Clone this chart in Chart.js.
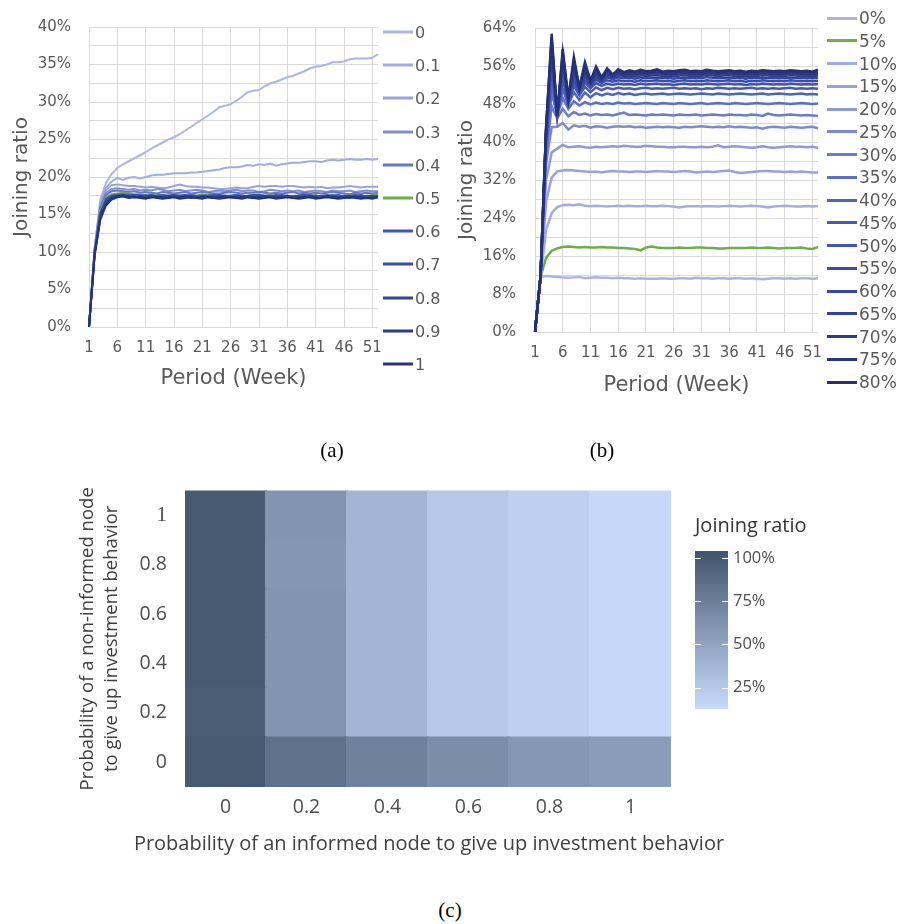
<!DOCTYPE html>
<html>
<head>
<meta charset="utf-8">
<title>Joining ratio</title>
<script src="https://cdn.jsdelivr.net/npm/chart.js@4.4.1/dist/chart.umd.min.js"></script>
<style>
  html, body { margin: 0; padding: 0; background: #fff; }
  #page { position: relative; width: 901px; height: 924px; overflow: hidden; }
  canvas { position: absolute; }
  .lg { position: absolute; display: flex; align-items: center; white-space: nowrap;
        transform: translateY(-50%); font-family: 'DejaVu Sans', sans-serif; color: #595959; }
  .lg i { display: inline-block; width: 30px; height: 3px; margin-right: 2px; }
  .cap { position: absolute; transform: translate(-50%, -50%); font-family: 'Liberation Serif', serif;
         font-size: 21px; color: #000; white-space: nowrap; }
  .xt { position: absolute; transform: translate(-50%, -50%); font-family: 'Open Sans', sans-serif;
        font-size: 20px; color: #3f3f3f; white-space: nowrap; }
</style>
</head>
<body>
<div id="page">
  <canvas id="chartA" width="400" height="400" style="left:0;top:0"></canvas>
  <canvas id="chartB" width="395" height="400" style="left:445px;top:0"></canvas>
  <canvas id="chartC" width="620" height="372" style="left:60px;top:460px"></canvas>
  <canvas id="chartD" width="130" height="219" style="left:690px;top:505px"></canvas>
  <div class="cap" style="left:332px;top:450px">(a)</div>
  <div class="cap" style="left:602px;top:450px">(b)</div>
  <div class="cap" style="left:450px;top:910px">(c)</div>
  <div class="xt" style="left:429px;top:842px">Probability of an informed node to give up investment behavior</div>
</div>
<script>
// ---- data: panel (a), joining ratio (%) per week, by give-up probability ----
const weeks = [1, 2, 3, 4, 5, 6, 7, 8, 9, 10, 11, 12, 13, 14, 15, 16, 17, 18, 19, 20, 21, 22, 23, 24, 25, 26,
  27, 28, 29, 30, 31, 32, 33, 34, 35, 36, 37, 38, 39, 40, 41, 42, 43, 44, 45, 46, 47, 48, 49, 50, 51, 52];

const labelsA = ['0', '0.1', '0.2', '0.3', '0.4', '0.5', '0.6', '0.7', '0.8', '0.9', '1'];
const colorsA = ['#adb5e2', '#a3ace0', '#98a3dc', '#7f8dd3', '#6676c9', '#70ad47',
  '#4256b6', '#3b4eab', '#33449c', '#2b3a8c', '#25337a'];

const a00 = [0, 10.5, 17.0, 19.2, 20.4, 21.2, 21.7, 22.1, 22.5, 22.9, 23.3, 23.8, 24.2, 24.6, 25.0, 25.3, 25.7, 26.2, 26.7, 27.2,
  27.7, 28.2, 28.7, 29.3, 29.5, 29.7, 30.2, 30.7, 31.3, 31.5, 31.6, 32.1, 32.5, 32.7, 33.0, 33.3, 33.5, 33.8, 34.1, 34.5,
  34.7, 34.8, 35.0, 35.3, 35.3, 35.4, 35.7, 35.8, 35.8, 35.8, 35.9, 36.4];
const a01 = [0, 10.5, 16.6, 18.6, 19.4, 19.9, 19.6, 19.9, 20.0, 19.8, 20.0, 20.2, 20.3, 20.3, 20.4, 20.5, 20.5, 20.5, 20.6, 20.6,
  20.7, 20.8, 20.9, 21.0, 21.2, 21.3, 21.3, 21.4, 21.6, 21.5, 21.7, 21.6, 21.8, 21.5, 21.7, 21.8, 21.9, 21.9, 22.0, 22.1,
  22.1, 22.0, 22.2, 22.3, 22.2, 22.3, 22.4, 22.3, 22.3, 22.4, 22.3, 22.4];
const a02 = [0, 10.4, 16.3, 18.3, 18.9, 19.0, 18.9, 18.8, 18.8, 18.7, 18.6, 18.7, 18.6, 18.5, 18.6, 18.8, 19.0, 18.8, 18.7, 18.7,
  18.6, 18.6, 18.5, 18.4, 18.4, 18.5, 18.6, 18.5, 18.5, 18.7, 18.8, 18.7, 18.8, 18.8, 18.7, 18.8, 18.8, 18.7, 18.6, 18.7,
  18.6, 18.7, 18.5, 18.6, 18.6, 18.7, 18.8, 18.7, 18.6, 18.7, 18.7, 18.7];
const a03 = [0, 10.3, 16.0, 17.9, 18.4, 18.5, 18.4, 18.3, 18.4, 18.2, 18.3, 18.2, 18.4, 18.3, 18.1, 18.2, 18.3, 18.1, 18.2, 18.3,
  18.2, 18.0, 18.1, 18.2, 18.1, 18.2, 18.3, 18.1, 18.2, 18.2, 18.0, 18.1, 18.3, 18.2, 18.1, 18.2, 18.1, 18.2, 18.0, 18.1,
  18.2, 18.1, 18.0, 18.2, 18.1, 18.1, 18.2, 18.0, 18.1, 18.2, 18.1, 18.1];
const a04 = [0, 10.2, 15.8, 17.6, 18.1, 18.2, 18.1, 18.0, 18.1, 17.9, 18.0, 17.9, 17.8, 18.0, 17.9, 17.8, 17.9, 18.0, 17.8, 17.9,
  18.0, 17.9, 17.8, 17.8, 17.9, 18.0, 17.9, 17.8, 17.9, 17.9, 18.0, 17.9, 17.8, 17.9, 17.8, 17.9, 18.0, 17.8, 17.9, 17.8,
  17.9, 17.8, 17.9, 18.0, 17.9, 17.8, 17.7, 17.9, 17.8, 17.9, 17.8, 17.9];
const a05 = [0, 10.1, 15.5, 17.3, 17.7, 17.8, 17.9, 17.8, 17.7, 17.7, 17.6, 17.7, 17.6, 17.6, 17.5, 17.6, 17.5, 17.6, 17.5, 17.5,
  17.7, 17.6, 17.5, 17.4, 17.5, 17.5, 17.6, 17.5, 17.5, 17.6, 17.7, 17.5, 17.6, 17.5, 17.5, 17.4, 17.5, 17.5, 17.6, 17.5,
  17.6, 17.4, 17.5, 17.6, 17.5, 17.4, 17.6, 17.5, 17.3, 17.5, 17.6, 17.7];
const a06 = [0, 10.0, 15.2, 17.1, 17.5, 17.6, 17.7, 17.6, 17.5, 17.6, 17.5, 17.4, 17.5, 17.6, 17.5, 17.4, 17.5, 17.6, 17.5, 17.4,
  17.5, 17.5, 17.6, 17.5, 17.4, 17.5, 17.6, 17.5, 17.4, 17.5, 17.6, 17.5, 17.5, 17.4, 17.6, 17.5, 17.4, 17.5, 17.5, 17.6,
  17.4, 17.5, 17.6, 17.5, 17.4, 17.5, 17.5, 17.6, 17.4, 17.5, 17.4, 17.5];
const a07 = [0, 9.9, 15.0, 16.9, 17.4, 17.6, 17.5, 17.5, 17.6, 17.4, 17.5, 17.6, 17.4, 17.3, 17.5, 17.6, 17.5, 17.4, 17.6, 17.5,
  17.3, 17.4, 17.5, 17.6, 17.5, 17.4, 17.5, 17.3, 17.5, 17.6, 17.4, 17.5, 17.4, 17.6, 17.5, 17.3, 17.4, 17.5, 17.6, 17.4,
  17.5, 17.3, 17.4, 17.5, 17.6, 17.4, 17.3, 17.5, 17.6, 17.4, 17.5, 17.4];
const a08 = [0, 9.8, 14.8, 16.7, 17.3, 17.5, 17.6, 17.4, 17.5, 17.3, 17.4, 17.5, 17.3, 17.4, 17.5, 17.3, 17.4, 17.5, 17.4, 17.3,
  17.5, 17.4, 17.3, 17.4, 17.5, 17.3, 17.4, 17.5, 17.4, 17.3, 17.5, 17.4, 17.3, 17.5, 17.4, 17.5, 17.3, 17.4, 17.3, 17.5,
  17.4, 17.3, 17.5, 17.4, 17.3, 17.4, 17.5, 17.3, 17.4, 17.3, 17.4, 17.4];
const a09 = [0, 9.7, 14.6, 16.5, 17.2, 17.4, 17.5, 17.4, 17.3, 17.4, 17.2, 17.3, 17.4, 17.3, 17.2, 17.4, 17.3, 17.4, 17.2, 17.3,
  17.4, 17.3, 17.2, 17.3, 17.4, 17.3, 17.2, 17.4, 17.3, 17.2, 17.3, 17.4, 17.3, 17.2, 17.3, 17.4, 17.2, 17.3, 17.4, 17.3,
  17.2, 17.3, 17.4, 17.3, 17.2, 17.3, 17.2, 17.4, 17.3, 17.2, 17.3, 17.3];
const a10 = [0, 9.6, 14.3, 16.2, 17.0, 17.3, 17.4, 17.2, 17.3, 17.2, 17.1, 17.3, 17.2, 17.1, 17.2, 17.3, 17.1, 17.2, 17.3, 17.2,
  17.1, 17.3, 17.2, 17.1, 17.2, 17.3, 17.2, 17.1, 17.3, 17.2, 17.1, 17.2, 17.3, 17.1, 17.2, 17.3, 17.2, 17.1, 17.2, 17.3,
  17.1, 17.2, 17.3, 17.2, 17.1, 17.2, 17.3, 17.2, 17.1, 17.2, 17.1, 17.3];
const seriesA = [a00, a01, a02, a03, a04, a05, a06, a07, a08, a09, a10];

// ---- data: panel (b), joining ratio (%) per week, by share of informed nodes ----
const labelsB = ['0%', '5%', '10%', '15%', '20%', '25%', '30%', '35%', '40%', '45%', '50%', '55%', '60%', '65%', '70%', '75%', '80%'];
const colorsB = ['#abb3e2', '#70ad47', '#a3ace0', '#97a2dc', '#8e99d8', '#7c8ad2', '#6c7bcc', '#5e6fc6', '#5063bf',
  '#4659b8', '#4054b0', '#3b4ea7', '#36489e', '#314294', '#2c3c8a', '#283680', '#243176'];

const b00 = [0, 11.6, 11.8, 11.7, 11.6, 11.5, 11.4, 11.5, 11.6, 11.3, 11.4, 11.5, 11.4, 11.4, 11.3, 11.4, 11.3, 11.3, 11.2, 11.3,
  11.2, 11.2, 11.2, 11.3, 11.2, 11.2, 11.3, 11.3, 11.2, 11.4, 11.3, 11.3, 11.2, 11.3, 11.3, 11.2, 11.3, 11.3, 11.2, 11.3,
  11.2, 11.1, 11.2, 11.3, 11.3, 11.2, 11.3, 11.2, 11.3, 11.3, 11.2, 11.3];
const b05 = [0, 11.6, 15.6, 17.1, 17.6, 17.9, 18.0, 17.9, 17.8, 17.9, 17.8, 17.8, 17.9, 17.8, 17.8, 17.7, 17.7, 17.6, 17.5, 17.2,
  17.8, 18.0, 17.8, 17.7, 17.7, 17.7, 17.8, 17.7, 17.7, 17.8, 17.8, 17.7, 17.7, 17.6, 17.6, 17.7, 17.7, 17.7, 17.7, 17.8,
  17.7, 17.7, 17.8, 17.7, 17.6, 17.7, 17.7, 17.7, 17.8, 17.6, 17.5, 17.9];
const b10 = [0, 11.6, 21.5, 25.0, 26.3, 26.7, 26.8, 26.7, 26.9, 26.6, 26.5, 26.6, 26.5, 26.4, 26.5, 26.6, 26.5, 26.6, 26.5, 26.5,
  26.6, 26.5, 26.5, 26.6, 26.5, 26.4, 26.2, 26.4, 26.5, 26.5, 26.4, 26.5, 26.5, 26.4, 26.5, 26.6, 26.5, 26.4, 26.5, 26.6,
  26.5, 26.4, 26.2, 26.4, 26.5, 26.6, 26.5, 26.4, 26.4, 26.5, 26.4, 26.5];
const b15 = [0, 11.6, 27.5, 32.5, 33.8, 34.0, 34.1, 34.0, 33.9, 33.8, 33.7, 33.8, 33.6, 33.8, 33.9, 33.8, 33.8, 33.7, 33.8, 33.8,
  33.7, 33.8, 33.9, 33.8, 33.8, 33.7, 33.8, 33.9, 33.8, 33.6, 33.7, 33.8, 33.7, 33.8, 33.9, 34.0, 33.7, 33.5, 33.6, 33.7,
  33.8, 33.9, 33.9, 33.8, 33.8, 33.7, 33.8, 33.7, 33.8, 33.7, 33.6, 33.6];
const b20 = [0, 11.6, 32.0, 37.8, 38.6, 39.4, 38.9, 39.0, 39.1, 38.9, 38.8, 39.0, 38.9, 39.0, 39.1, 39.0, 39.2, 39.1, 39.0, 39.0,
  39.2, 39.1, 39.0, 39.0, 38.9, 38.9, 39.0, 39.0, 38.9, 38.9, 39.0, 38.9, 39.0, 39.3, 38.9, 39.0, 39.1, 39.0, 38.9, 38.8,
  38.9, 39.1, 38.9, 38.8, 38.9, 39.0, 39.1, 39.0, 39.0, 38.9, 39.0, 38.8];
const b25 = [0, 11.6, 35.5, 43.1, 43.2, 44.0, 42.6, 43.5, 43.2, 43.4, 43.0, 43.3, 43.2, 43.0, 43.2, 43.3, 43.2, 43.3, 43.1, 43.2,
  43.0, 43.1, 43.2, 43.1, 43.2, 43.1, 43.0, 43.2, 43.1, 43.2, 43.3, 43.2, 43.1, 43.2, 43.1, 43.3, 43.1, 43.2, 43.1, 43.0,
  43.1, 42.8, 43.1, 43.2, 43.1, 43.0, 43.2, 43.1, 43.0, 43.1, 43.2, 42.9];
const b30 = [0, 11.6, 37.0, 47.5, 45.0, 47.0, 45.4, 46.3, 45.7, 46.0, 45.6, 45.9, 45.7, 45.8, 45.6, 45.9, 46.2, 45.7, 45.8, 45.7,
  45.6, 45.8, 45.7, 45.8, 45.7, 45.6, 45.8, 45.7, 45.7, 45.8, 45.6, 45.7, 45.8, 45.7, 45.6, 45.8, 45.7, 45.7, 45.6, 45.8,
  45.7, 45.5, 46.0, 45.7, 45.6, 45.7, 45.8, 45.7, 45.6, 45.7, 45.6, 45.5];
const b35 = [0, 11.6, 38.5, 50.5, 45.5, 49.3, 47.0, 48.6, 47.7, 48.4, 47.9, 48.3, 48.0, 48.2, 48.0, 48.3, 48.1, 48.2, 48.0, 48.1,
  48.2, 48.1, 48.0, 48.2, 48.1, 48.0, 48.2, 48.1, 48.0, 48.1, 48.2, 48.0, 48.1, 48.2, 48.1, 48.0, 48.2, 48.1, 48.0, 48.1,
  48.2, 48.1, 48.0, 48.1, 48.2, 48.1, 48.0, 48.1, 48.2, 48.1, 48.0, 48.1];
const b40 = [0, 11.6, 39.5, 53.0, 45.8, 51.2, 47.8, 50.5, 48.8, 50.4, 49.4, 50.3, 49.8, 50.2, 49.9, 50.3, 50.0, 50.2, 49.9, 50.1,
  50.2, 50.0, 50.1, 50.2, 50.0, 50.1, 50.2, 50.1, 50.0, 50.1, 50.2, 50.1, 50.0, 50.2, 50.1, 50.0, 50.1, 50.2, 50.1, 50.0,
  50.1, 50.2, 50.0, 50.1, 50.2, 50.1, 50.0, 50.1, 50.2, 50.0, 50.1, 50.0];
const b45 = [0, 11.6, 40.5, 55.5, 45.8, 53.0, 48.4, 51.8, 49.8, 51.6, 50.5, 51.5, 50.9, 51.4, 51.1, 51.4, 51.2, 51.3, 51.1, 51.3,
  51.4, 51.2, 51.3, 51.2, 51.3, 51.4, 51.2, 51.3, 51.2, 51.3, 51.1, 51.3, 51.2, 51.4, 51.3, 51.2, 51.3, 51.2, 51.3, 51.4,
  51.2, 51.3, 51.2, 51.3, 51.2, 51.3, 51.4, 51.2, 51.3, 51.2, 51.3, 51.2];
const b50 = [0, 11.6, 41.0, 57.2, 45.6, 54.4, 48.8, 52.8, 50.4, 52.5, 51.3, 52.4, 51.8, 52.3, 52.0, 52.3, 52.1, 52.2, 52.0, 52.3,
  52.1, 52.2, 52.3, 52.1, 52.2, 52.0, 52.2, 52.3, 52.1, 52.2, 52.1, 52.3, 52.2, 52.1, 52.2, 52.3, 52.1, 52.2, 52.0, 52.2,
  52.1, 52.3, 52.2, 52.1, 52.2, 52.1, 52.3, 52.2, 52.1, 52.2, 52.1, 52.2];
const b55 = [0, 11.6, 41.5, 58.6, 45.5, 55.6, 49.0, 53.6, 50.8, 53.2, 51.8, 53.1, 52.4, 53.0, 52.7, 53.0, 52.8, 52.9, 52.7, 53.0,
  52.8, 52.9, 53.0, 52.8, 52.9, 52.7, 52.9, 53.0, 52.8, 52.9, 52.8, 53.0, 52.9, 52.8, 52.9, 53.0, 52.8, 52.9, 52.7, 52.9,
  52.8, 53.0, 52.9, 52.8, 52.9, 52.8, 53.0, 52.9, 52.8, 52.9, 52.8, 52.9];
const b60 = [0, 11.6, 42.0, 59.8, 45.5, 56.6, 49.0, 54.5, 51.0, 53.9, 52.1, 53.6, 52.8, 53.6, 53.2, 53.6, 53.4, 53.5, 53.3, 53.6,
  53.4, 53.5, 53.6, 53.4, 53.5, 53.3, 53.5, 53.6, 53.4, 53.5, 53.4, 53.7, 53.5, 53.4, 53.5, 53.6, 53.4, 53.5, 53.3, 53.5,
  53.4, 53.6, 53.5, 53.4, 53.5, 53.4, 53.6, 53.5, 53.4, 53.5, 53.4, 53.5];
const b65 = [0, 11.6, 42.3, 60.6, 45.5, 57.4, 49.0, 55.3, 51.2, 54.6, 52.4, 54.2, 53.1, 54.1, 53.6, 54.1, 53.9, 54.0, 53.8, 54.1,
  53.9, 54.0, 54.1, 53.9, 54.0, 53.8, 54.0, 54.1, 53.9, 54.0, 53.9, 54.2, 54.0, 53.9, 54.0, 54.1, 53.9, 54.0, 53.8, 54.0,
  53.9, 54.1, 54.0, 53.9, 54.0, 53.9, 54.1, 54.0, 53.9, 54.0, 53.9, 54.0];
const b70 = [0, 11.6, 42.6, 61.3, 45.5, 58.0, 49.0, 56.0, 51.3, 55.3, 52.6, 54.8, 53.4, 54.6, 53.9, 54.5, 54.2, 54.4, 54.2, 54.5,
  54.3, 54.4, 54.6, 54.3, 54.4, 54.2, 54.4, 54.5, 54.3, 54.4, 54.3, 54.6, 54.4, 54.3, 54.4, 54.5, 54.3, 54.4, 54.2, 54.4,
  54.3, 54.5, 54.4, 54.3, 54.4, 54.3, 54.5, 54.4, 54.3, 54.4, 54.3, 54.4];
const b75 = [0, 11.6, 42.9, 62.0, 45.5, 58.8, 49.1, 56.8, 51.4, 55.8, 52.8, 55.2, 53.6, 54.9, 54.2, 54.8, 54.5, 54.7, 54.5, 54.8,
  54.6, 54.7, 54.9, 54.6, 54.7, 54.5, 54.7, 54.8, 54.6, 54.7, 54.6, 54.9, 54.7, 54.6, 54.7, 54.8, 54.6, 54.7, 54.5, 54.7,
  54.6, 54.8, 54.7, 54.6, 54.7, 54.6, 54.8, 54.7, 54.6, 54.7, 54.6, 54.7];
const b80 = [0, 11.6, 43.2, 62.8, 45.5, 59.6, 49.2, 57.9, 51.5, 56.8, 52.9, 55.9, 53.6, 55.5, 54.2, 55.3, 54.7, 55.1, 54.8, 55.2,
  54.9, 55.0, 55.3, 54.8, 55.0, 54.9, 55.1, 55.2, 54.9, 55.0, 54.9, 55.2, 55.0, 54.9, 55.0, 55.1, 54.9, 55.0, 54.8, 55.0,
  54.9, 55.1, 55.0, 54.9, 55.0, 54.9, 55.1, 55.0, 54.9, 55.0, 54.8, 55.2];
const seriesB = [b00, b05, b10, b15, b20, b25, b30, b35, b40, b45, b50, b55, b60, b65, b70, b75, b80];

// ---- data: panel (c), joining ratio (%) grid ----
const informedProb = ['0', '0.2', '0.4', '0.6', '0.8', '1'];      // x
const nonInformedProb = ['0', '0.2', '0.4', '0.6', '0.8', '1'];   // y, bottom to top
const heatY00 = [100, 84, 73, 65, 58, 55];
const heatY02 = [98, 60, 38, 25, 19, 14];
const heatY04 = [100, 60, 38, 25, 19, 14];
const heatY06 = [100, 60, 38, 25, 19, 14];
const heatY08 = [100, 59, 38, 25, 19, 14];
const heatY10 = [100, 60, 38, 25, 19, 14];
const heatRows = [heatY00, heatY02, heatY04, heatY06, heatY08, heatY10];

// colour bar: range and ticks (%)
const barRange = [12.5, 104];
const barTicks = [25, 50, 75, 100];

// ---- styling ----
const GRID = '#d9d9d9';
const TEXT = '#595959';
const LOW = [200, 218, 252];
const HIGH = [66, 84, 108];
const SANS_C = "'Open Sans', sans-serif";

Chart.defaults.font.family = "'DejaVu Sans', sans-serif";
Chart.defaults.color = TEXT;
Chart.defaults.animation = false;

function rgb(c) { return `rgb(${c[0]}, ${c[1]}, ${c[2]})`; }

function heatColor(v) {
  const t = Math.min(1, Math.max(0, (v - barRange[0]) / (barRange[1] - barRange[0])));
  return rgb(LOW.map((lo, k) => Math.round(lo + (HIGH[k] - lo) * t)));
}

const onStep = (v, step) => Math.abs(v / step - Math.round(v / step)) < 1e-6;

function lineChart(id, series, labels, colors, opt) {
  const n = series.length;
  return new Chart(document.getElementById(id), {
    type: 'line',
    data: {
      labels: weeks,
      datasets: series.map((d, i) => ({
        label: labels[i],
        data: d,
        borderColor: colors[i],
        backgroundColor: colors[i],
        borderWidth: opt.lineWidth,
        pointRadius: 0,
        tension: 0,
        order: n - i,
      })),
    },
    options: {
      responsive: false,
      animation: false,
      layout: { padding: { top: 15, right: 22, bottom: 0, left: 0 } },
      plugins: { legend: { display: false }, tooltip: { enabled: false } },
      scales: {
        x: {
          grid: { color: (c) => (c.index % 5 === 0 ? GRID : 'rgba(0,0,0,0)'), drawTicks: false },
          border: { display: false },
          ticks: {
            autoSkip: false,
            maxRotation: 0,
            padding: 12,
            font: { size: 15 },
            callback: (v, i) => (i % 5 === 0 ? weeks[i] : ''),
          },
          title: { display: true, text: 'Period (Week)', font: { size: 21 }, padding: { top: 0, bottom: opt.xTitlePad } },
          afterFit: (s) => { s.height = opt.xHeight; },
        },
        y: {
          min: 0,
          max: opt.yMax,
          grid: { color: GRID, drawTicks: false },
          border: { display: false },
          ticks: {
            stepSize: opt.yStep / 2,
            autoSkip: false,
            padding: opt.yPad,
            font: { size: 15 },
            callback: (v) => (onStep(v, opt.yStep) ? Math.round(v) + '%' : ''),
          },
          title: { display: true, text: 'Joining ratio', font: { size: 20 }, padding: { top: 10, bottom: 0 } },
          afterFit: (s) => { s.width = opt.yWidth; },
        },
      },
    },
  });
}

function htmlLegend(labels, colors, x, y0, dy, size) {
  const page = document.getElementById('page');
  labels.forEach((lab, i) => {
    const row = document.createElement('div');
    row.className = 'lg';
    row.style.left = x + 'px';
    row.style.top = (y0 + i * dy) + 'px';
    row.style.fontSize = size + 'px';
    const swatch = document.createElement('i');
    swatch.style.background = colors[i];
    row.appendChild(swatch);
    row.appendChild(document.createTextNode(lab));
    page.appendChild(row);
  });
}

// (a)
lineChart('chartA', seriesA, labelsA, colorsA,
  { lineWidth: 2, yMax: 40, yStep: 5, yPad: 18, yWidth: 89, xHeight: 73, xTitlePad: 9 });
htmlLegend(labelsA, colorsA, 383, 32, 33.2, 16);

// (b)
lineChart('chartB', seriesB, labelsB, colorsB,
  { lineWidth: 2.5, yMax: 64, yStep: 8, yPad: 19, yWidth: 90, xHeight: 68, xTitlePad: 2 });
htmlLegend(labelsB, colorsB, 827, 18, 22.75, 17);

// (c) heatmap as stacked unit bars, coloured by value
new Chart(document.getElementById('chartC'), {
  type: 'bar',
  data: {
    labels: informedProb,
    datasets: heatRows.map((row, r) => ({
      label: nonInformedProb[r],
      data: row.map(() => 1),
      backgroundColor: row.map(heatColor),
      borderWidth: 0,
      inflateAmount: 1,
      barPercentage: 1,
      categoryPercentage: 1,
    })),
  },
  options: {
    responsive: false,
    animation: false,
    layout: { padding: { top: 19, right: 9, bottom: 0, left: 0 } },
    plugins: { legend: { display: false }, tooltip: { enabled: false } },
    scales: {
      x: {
        stacked: true,
        grid: { display: false, drawTicks: false },
        border: { display: false },
        ticks: { padding: 9, color: '#4d4d4d', font: { family: SANS_C, size: 19.5 } },
        afterFit: (s) => { s.height = 45; },
      },
      y: {
        stacked: true,
        min: 0,
        max: nonInformedProb.length,
        grid: { display: false, drawTicks: false },
        border: { display: false },
        afterBuildTicks: (s) => { s.ticks = nonInformedProb.map((_, i) => ({ value: i + 0.5 })); },
        ticks: {
          padding: 18,
          color: '#4d4d4d',
          font: (c) => (c.index === nonInformedProb.length - 1
            ? { family: "'Liberation Serif', serif", size: 21 }
            : { family: SANS_C, size: 19.5 }),
          callback: (v, i) => nonInformedProb[i],
        },
        title: {
          display: true,
          text: ['Probability of a non-informed node', 'to give up investment behavior'],
          color: '#3f3f3f',
          font: { family: SANS_C, size: 18.5, lineHeight: 24 / 18.5 },
          padding: { top: 16, bottom: 0 },
        },
        afterFit: (s) => { s.width = 125; },
      },
    },
  },
});

// colour bar
const barTickMarks = {
  id: 'barTickMarks',
  afterDatasetsDraw(chart) {
    const { ctx, chartArea: a, scales: { y } } = chart;
    ctx.save();
    ctx.strokeStyle = '#ffffff';
    ctx.lineWidth = 1;
    barTicks.forEach((v) => {
      const py = Math.round(y.getPixelForValue(v)) + 0.5;
      ctx.beginPath();
      ctx.moveTo(a.left, py);
      ctx.lineTo(a.left + 6, py);
      ctx.moveTo(a.right - 6, py);
      ctx.lineTo(a.right, py);
      ctx.stroke();
    });
    ctx.restore();
  },
};

new Chart(document.getElementById('chartD'), {
  type: 'bar',
  data: {
    labels: [''],
    datasets: [{
      data: [barRange],
      borderWidth: 0,
      barPercentage: 1,
      categoryPercentage: 1,
      backgroundColor: (c) => {
        const chart = c.chart;
        if (!chart.chartArea) return rgb(LOW);
        const y = chart.scales.y;
        const g = chart.ctx.createLinearGradient(0, y.getPixelForValue(barRange[0]), 0, y.getPixelForValue(barRange[1]));
        g.addColorStop(0, rgb(LOW));
        g.addColorStop(1, rgb(HIGH));
        return g;
      },
    }],
  },
  options: {
    responsive: false,
    animation: false,
    layout: { padding: { top: 0, right: 0, bottom: 12, left: 5 } },
    plugins: {
      legend: { display: false },
      tooltip: { enabled: false },
      title: {
        display: true,
        text: 'Joining ratio',
        align: 'start',
        color: '#333333',
        font: { family: SANS_C, size: 20, weight: 'normal' },
        padding: { top: 9, bottom: 13 },
      },
    },
    scales: {
      x: { display: false },
      y: {
        position: 'right',
        min: barRange[0],
        max: barRange[1],
        grid: { display: false, drawTicks: false },
        border: { display: false },
        afterBuildTicks: (s) => { s.ticks = barTicks.map((v) => ({ value: v })); },
        ticks: {
          padding: 5,
          color: '#4d4d4d',
          font: { family: SANS_C, size: 16.5 },
          callback: (v) => v + '%',
        },
        afterFit: (s) => { s.width = 92; },
      },
    },
  },
  plugins: [barTickMarks],
});
</script>
</body>
</html>
